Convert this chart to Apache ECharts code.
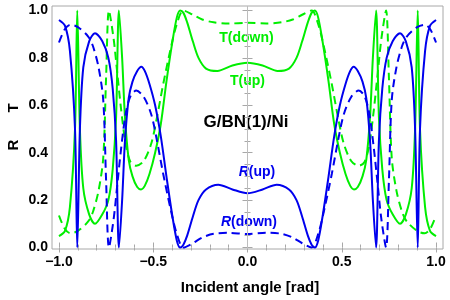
<!DOCTYPE html>
<html><head><meta charset="utf-8">
<script src="https://cdn.jsdelivr.net/npm/echarts@6/dist/echarts.min.js"></script>
<style>html,body{margin:0;padding:0;background:#fff}#c{width:450px;height:300px}</style>
</head><body><div id="c"></div>
<script>
// ---- tick values ----
const xMajor = [-1, -0.5, 0, 0.5, 1];
const xMinor = [-0.9,-0.8,-0.7,-0.6,-0.4,-0.3,-0.2,-0.1,0.1,0.2,0.3,0.4,0.6,0.7,0.8,0.9];
const yMajor = [0, 0.2, 0.4, 0.6, 0.8, 1.0];
const yMinor = [0.05,0.1,0.15,0.25,0.3,0.35,0.45,0.5,0.55,0.65,0.7,0.75,0.85,0.9,0.95];

// ---- T(up) ----
const tUpX = [-1.0,-0.968,-0.942,-0.915,-0.903,-0.889,-0.871,-0.84,-0.809,-0.77,-0.738,-0.715,-0.697,-0.682,-0.665,-0.65,-0.63,-0.61,-0.585,-0.565,-0.545,-0.52,-0.49,-0.46,-0.43,-0.40,-0.375,-0.357,-0.34,-0.32,-0.29,-0.26,-0.22,-0.16,-0.08,0,
  0.08,0.16,0.22,0.26,0.29,0.32,0.34,0.357,0.375,0.40,0.43,0.46,0.49,0.52,0.545,0.565,0.585,0.61,0.63,0.65,0.665,0.682,0.697,0.715,0.738,0.77,0.809,0.84,0.871,0.889,0.903,0.915,0.942,0.968,1.0];
const tUpY = [0.048,0.07,0.17,0.5,1.0,0.5,0.25,0.14,0.1,0.14,0.2,0.33,0.55,1.0,0.80,0.55,0.37,0.30,0.255,0.245,0.26,0.31,0.40,0.52,0.70,0.86,0.97,1.0,0.99,0.95,0.87,0.80,0.755,0.745,0.768,0.78,
  0.768,0.745,0.755,0.80,0.87,0.95,0.99,1.0,0.97,0.86,0.70,0.52,0.40,0.31,0.26,0.245,0.255,0.30,0.37,0.55,0.80,1.0,0.55,0.33,0.2,0.14,0.1,0.14,0.25,0.5,1.0,0.5,0.17,0.07,0.048];

// ---- R(up) ----
const rUpX = [-1.0,-0.968,-0.942,-0.915,-0.903,-0.889,-0.871,-0.84,-0.809,-0.77,-0.738,-0.715,-0.697,-0.682,-0.665,-0.65,-0.63,-0.61,-0.585,-0.563,-0.545,-0.52,-0.49,-0.46,-0.43,-0.40,-0.375,-0.357,-0.34,-0.32,-0.29,-0.26,-0.22,-0.155,-0.08,0,
  0.08,0.155,0.22,0.26,0.29,0.32,0.34,0.357,0.375,0.40,0.43,0.46,0.49,0.52,0.545,0.563,0.585,0.61,0.63,0.65,0.665,0.682,0.697,0.715,0.738,0.77,0.809,0.84,0.871,0.889,0.903,0.915,0.942,0.968,1.0];
const rUpY = [0.96,0.935,0.83,0.5,0.0,0.5,0.76,0.87,0.904,0.87,0.80,0.67,0.45,0.0,0.20,0.45,0.63,0.70,0.745,0.763,0.745,0.69,0.60,0.47,0.30,0.14,0.03,0.0,0.012,0.05,0.13,0.20,0.245,0.265,0.245,0.229,
  0.245,0.265,0.245,0.20,0.13,0.05,0.012,0.0,0.03,0.14,0.30,0.47,0.60,0.69,0.745,0.763,0.745,0.70,0.63,0.45,0.20,0.0,0.45,0.67,0.80,0.87,0.904,0.87,0.76,0.5,0.0,0.5,0.83,0.935,0.96];

// ---- T(down) ----
const tDownX = [-1.0,-0.97,-0.94,-0.9,-0.845,-0.82,-0.79,-0.765,-0.75,-0.735,-0.71,-0.69,-0.67,-0.645,-0.62,-0.59,-0.55,-0.51,-0.48,-0.447,-0.41,-0.376,-0.34,-0.29,-0.24,-0.18,-0.1,0,
  0.1,0.18,0.24,0.29,0.34,0.376,0.41,0.447,0.48,0.51,0.55,0.59,0.62,0.645,0.67,0.69,0.71,0.735,0.75,0.765,0.79,0.82,0.845,0.9,0.94,0.97,1.0];
const tDownY = [0.135,0.08,0.06,0.07,0.11,0.15,0.24,0.38,0.72,1.0,0.88,0.73,0.58,0.43,0.36,0.345,0.365,0.44,0.55,0.69,0.83,0.94,1.0,0.982,0.962,0.95,0.945,0.948,
  0.945,0.95,0.962,0.982,1.0,0.94,0.83,0.69,0.55,0.44,0.365,0.345,0.36,0.43,0.58,0.73,0.88,1.0,0.72,0.38,0.24,0.15,0.11,0.07,0.06,0.08,0.135];

// ---- R(down) ----
const rDownX = tDownX;
const rDownY = [0.865,0.92,0.94,0.93,0.89,0.85,0.76,0.62,0.28,0.0,0.12,0.27,0.42,0.57,0.64,0.662,0.635,0.56,0.45,0.31,0.17,0.06,0.0,0.018,0.042,0.058,0.062,0.057,
  0.062,0.058,0.042,0.018,0.0,0.06,0.17,0.31,0.45,0.56,0.635,0.662,0.64,0.57,0.42,0.27,0.12,0.0,0.28,0.62,0.76,0.85,0.89,0.93,0.94,0.92,0.865];

// ---- chart ----
const FONT = '"Liberation Sans", Arial, sans-serif';
const GREEN = '#00ee00', BLUE = '#0000ee', FRAME = '#a8a8a8';
const X_MIN = -1.037, X_MAX = 1.037, Y_MIN = -0.0063, Y_MAX = 1.019;
function fmt(v) { return v.toFixed(1).replace('-', '\u2212'); }
function xAx(pos, vals, len, labels) {
  return { type: 'value', gridIndex: 0, position: pos, min: X_MIN, max: X_MAX,
    axisLine: { show: false }, splitLine: { show: false },
    axisTick: { show: true, inside: true, length: len, customValues: vals, lineStyle: { color: FRAME, width: 1 } },
    axisLabel: { show: labels, customValues: vals, formatter: fmt, color: '#000', fontWeight: 'bold', fontSize: 14, fontFamily: FONT, margin: 6 } };
}
function yAx(pos, vals, len, labels) {
  return { type: 'value', gridIndex: 0, position: pos, min: Y_MIN, max: Y_MAX,
    axisLine: { show: false }, splitLine: { show: false },
    axisTick: { show: true, inside: true, length: len, customValues: vals, lineStyle: { color: FRAME, width: 1 } },
    axisLabel: { show: labels, customValues: vals, formatter: fmt, color: '#000', fontWeight: 'bold', fontSize: 14, fontFamily: FONT, margin: 4 } };
}
function zip(xs, ys) { return xs.map((x, i) => [x, ys[i]]); }
function curve(name, xs, ys, color, dashed) {
  return { name, type: 'line', xAxisIndex: 0, yAxisIndex: 0, data: zip(xs, ys), showSymbol: false, smooth: 0.3,
    silent: true, z: 3, lineStyle: { color, width: 2, type: dashed ? [8, 5] : 'solid' }, itemStyle: { color } };
}
const chart = echarts.init(document.getElementById('c'));
chart.setOption({
  animation: false,
  grid: { left: 52, right: 7, top: 6, bottom: 51, show: true, borderColor: FRAME, borderWidth: 1, backgroundColor: 'transparent' },
  xAxis: [xAx('bottom', xMajor, 5, true), xAx('bottom', xMinor, 3, false), xAx('top', xMajor, 5, false), xAx('top', xMinor, 3, false)],
  yAxis: [yAx('left', yMajor, 5, true), yAx('left', yMinor, 3, false), yAx('right', yMajor, 5, false), yAx('right', yMinor, 3, false)],
  series: [
    { type: 'line', data: [], z: 1, silent: true, markLine: { silent: true, symbol: ['none', 'none'], label: { show: false },
        lineStyle: { color: '#bdbdbd', width: 1, type: 'solid' }, data: [{ xAxis: 0 }] } },
    curve('T(up)', tUpX, tUpY, GREEN, false),
    curve('T(down)', tDownX, tDownY, GREEN, true),
    curve('R(up)', rUpX, rUpY, BLUE, false),
    curve('R(down)', rDownX, rDownY, BLUE, true)
  ],
  graphic: [
    { type: 'text', x: 14, y: 108, rotation: Math.PI / 2, style: { text: 'T', fill: '#000', font: 'bold 15px ' + FONT, align: 'center', verticalAlign: 'middle' } },
    { type: 'text', x: 14, y: 145, rotation: Math.PI / 2, style: { text: 'R', fill: '#000', font: 'bold 15px ' + FONT, align: 'center', verticalAlign: 'middle' } },
    { type: 'text', x: 250, y: 288, style: { text: 'Incident angle [rad]', fill: '#000', font: 'bold 15px ' + FONT, align: 'center', verticalAlign: 'middle' } },
    { type: 'text', x: 246.5, y: 38, style: { text: 'T(down)', fill: GREEN, font: 'bold 14px ' + FONT, align: 'center', verticalAlign: 'middle' } },
    { type: 'text', x: 247.5, y: 81, style: { text: 'T(up)', fill: GREEN, font: 'bold 14px ' + FONT, align: 'center', verticalAlign: 'middle' } },
    { type: 'text', x: 246, y: 122, style: { text: 'G/BN(1)/Ni', fill: '#000', font: 'bold 17px ' + FONT, align: 'center', verticalAlign: 'middle' } },
    { type: 'text', x: 257, y: 172, style: { text: '{i|R}(up)', fill: BLUE, font: 'bold 14px ' + FONT, align: 'center', verticalAlign: 'middle',
        rich: { i: { fontStyle: 'italic', fontWeight: 'bold', fontSize: 14, fontFamily: FONT, fill: BLUE } } } },
    { type: 'text', x: 249, y: 222, style: { text: '{i|R}(down)', fill: BLUE, font: 'bold 14px ' + FONT, align: 'center', verticalAlign: 'middle',
        rich: { i: { fontStyle: 'italic', fontWeight: 'bold', fontSize: 14, fontFamily: FONT, fill: BLUE } } } }
  ]
});
</script></body></html>
